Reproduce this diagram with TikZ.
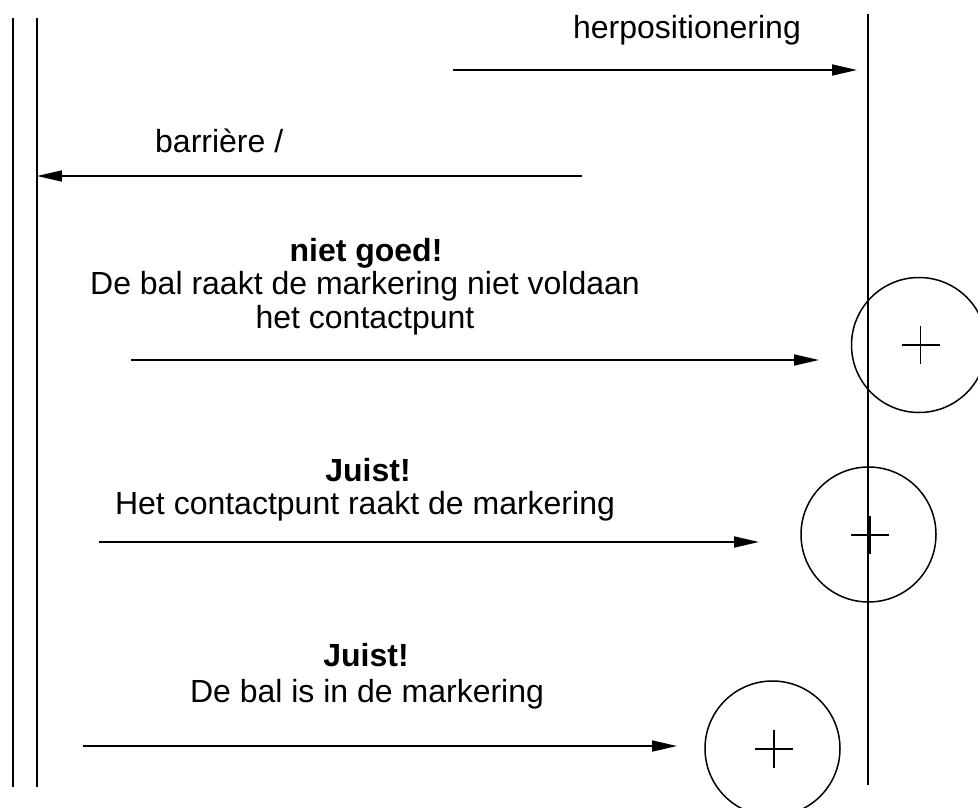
\documentclass[tikz,border=0pt]{standalone}
\usepackage{fontspec}
\setmainfont{Liberation Sans}
\usetikzlibrary{arrows.meta}
\begin{document}
\begin{tikzpicture}[x=1pt,y=-1pt,
  wall/.style={line width=2pt},
  shot/.style={line width=1.8pt,-{Triangle[length=25pt,width=11pt]}},
  ball/.style={circle,draw,line width=1.5pt,minimum size=135pt,inner sep=0pt},
  crossline/.style={line width=1.5pt},
  txt/.style={anchor=base,inner sep=0pt,font=\fontsize{32}{34}\selectfont},
  btxt/.style={txt,font=\fontsize{32}{34}\selectfont\bfseries}]
\useasboundingbox (0,0) rectangle (978,808);
\clip (0,0) rectangle (978,808);
% walls
\coordinate (w1t) at (13,18); \coordinate (w1b) at (13,787);
\coordinate (w2t) at (37,18); \coordinate (w2b) at (37,787);
\coordinate (w3t) at (868,14); \coordinate (w3b) at (868,785);
\draw[wall] (w1t) -- (w1b);
\draw[wall] (w2t) -- (w2b);
\draw[wall] (w3t) -- (w3b);
% labels
\node[txt] (herp) at (687,39) {herpositionering};
\node[txt,anchor=base west] (barr) at (155,152) {barrière /};
\node[btxt] (ng) at (366,261) {niet goed!};
\node[txt] (ng1) at (365,294) {De bal raakt de markering niet voldaan};
\node[txt] (ng2) at (365,328) {het contactpunt};
\node[btxt] (j1) at (368,481) {Juist!};
\node[txt] (j1a) at (365,514) {Het contactpunt raakt de markering};
\node[btxt] (j2) at (366,666) {Juist!};
\node[txt] (j2a) at (367,702) {De bal is in de markering};
% arrows
\coordinate (a1s) at (453,70); \coordinate (a1e) at (857,70);
\coordinate (a2s) at (582,176);
\coordinate (a2e) at (37,176);
\coordinate (a3s) at (131,360); \coordinate (a3e) at (819,360);
\coordinate (a4s) at (99,542); \coordinate (a4e) at (759,542);
\coordinate (a5s) at (83,746); \coordinate (a5e) at (677,746);
\draw[shot] (a1s) -- (a1e);
\draw[shot] (a2s) -- (a2e);
\draw[shot] (a3s) -- (a3e);
\draw[shot] (a4s) -- (a4e);
\draw[shot] (a5s) -- (a5e);
% balls
\node[ball] (b1) at (919,345) {};
\node[ball] (b2) at (868.5,534.5) {};
\node[ball] (b3) at (772.5,748.5) {};
\coordinate (c1) at (920.5,345);
\coordinate (c2) at (870,535);
\coordinate (c3) at (774,749);
\foreach \c in {c1,c2,c3}{
  \draw[crossline] ([xshift=-19pt]\c) -- ([xshift=19pt]\c);
  \draw[crossline] ([yshift=-19pt]\c) -- ([yshift=19pt]\c);
}
\end{tikzpicture}
\end{document}
